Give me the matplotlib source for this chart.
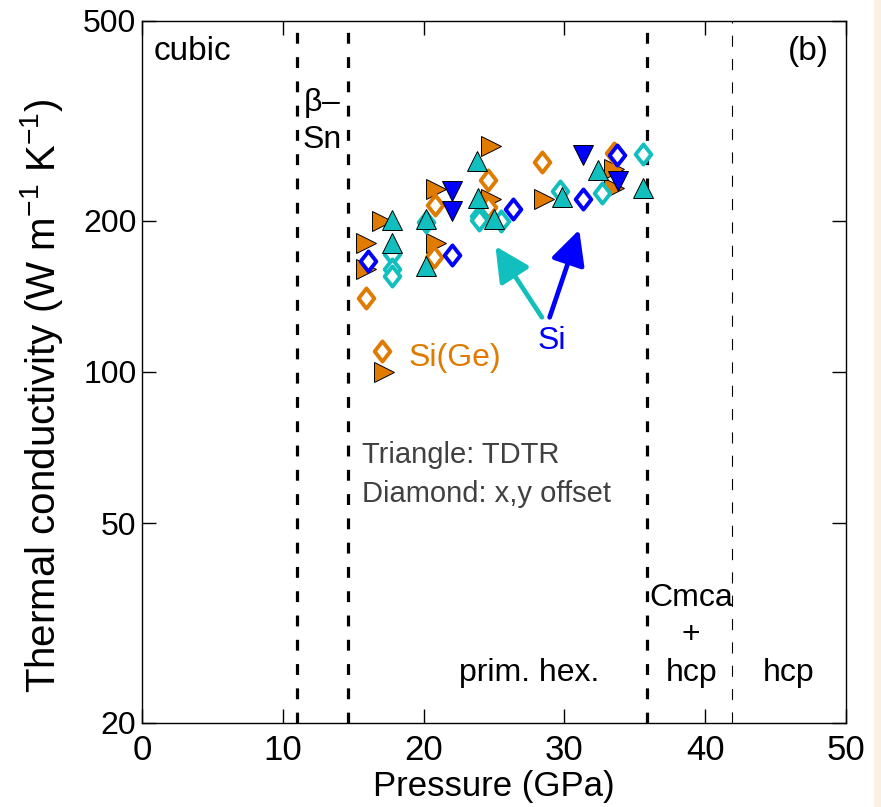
import numpy as np
import matplotlib
matplotlib.use('Agg')
import matplotlib.pyplot as plt
from matplotlib.path import Path
from matplotlib.patches import Rectangle

plt.rcParams['font.family'] = ['Liberation Sans', 'DejaVu Sans']
plt.rcParams['mathtext.fontset'] = 'custom'
plt.rcParams['mathtext.rm'] = 'Liberation Sans'

ORANGE = '#e07b00'
CYAN = '#12bfbf'
BLUE = '#0000ff'

# Si(Ge): TDTR (right triangles) and x,y offset (open diamonds)
sige_tdtr_p = [15.9, 15.9, 17.07, 20.86, 20.86, 24.77, 24.77, 28.55, 33.52, 33.52]
sige_tdtr_k = [181, 160, 200, 231, 181, 282, 221, 221, 254, 233]
sige_xy_p = [15.89, 20.74, 20.79, 24.57, 24.6, 28.38, 33.52]
sige_xy_k = [140.4, 169.5, 214.7, 240.7, 213, 261.8, 273.5]

# Si, first sample (cyan): up triangles and diamonds
si1_tdtr_p = [17.78, 17.78, 20.2, 20.2, 23.8, 23.88, 25.0, 29.8, 32.4, 35.6]
si1_tdtr_k = [201, 181, 201.5, 162.4, 263, 222, 202, 223, 253, 232.6]
si1_xy_p = [17.78, 17.78, 17.78, 20.2, 23.9, 23.9, 25.47, 29.66, 32.7, 35.6]
si1_xy_k = [172, 160, 155, 198.5, 204, 201, 200, 229, 227, 272]

# Si, second sample (blue): down triangles and diamonds
si2_tdtr_p = [22.0, 22.0, 31.32, 33.8]
si2_tdtr_k = [229, 209, 270, 240]
si2_xy_p = [16.08, 22.0, 26.35, 31.32, 33.76]
si2_xy_k = [166, 170.6, 211, 221, 271]

# phase boundaries (GPa)
thick_bounds = [11.0, 14.6, 35.9]
thin_bounds = [41.9]

yticks = [20, 50, 100, 200, 500]
xticks = [0, 10, 20, 30, 40, 50]

# narrow diamond marker
diamond = Path([(0, 1), (0.78, 0), (0, -1), (-0.78, 0), (0, 1)],
               [Path.MOVETO, Path.LINETO, Path.LINETO, Path.LINETO, Path.CLOSEPOLY])

fig = plt.figure(figsize=(8.81, 8.07), dpi=100)
ax = fig.add_axes([0.1612, 0.1041, 0.7991, 0.8699])
fig.patches.append(Rectangle((874 / 881, 0), 7 / 881, 1, transform=fig.transFigure,
                             facecolor='#f8f0e4', edgecolor='none'))

for b in thick_bounds:
    ax.axvline(b, color='k', lw=2.3, ls=(0, (3.4, 4.2)), zorder=1)
for b in thin_bounds:
    ax.axvline(b, color='k', lw=0.8, ls=(0, (10, 11)), zorder=1)

tri = dict(ms=14, mec='k', mew=0.7, ls='none')
dia = dict(marker=diamond, ms=14.5, mfc='white', mew=2.8, ls='none')

ax.plot(sige_tdtr_p, sige_tdtr_k, '>', mfc=ORANGE, **tri, zorder=3)
ax.plot(sige_xy_p, sige_xy_k, mec=ORANGE, **dia, zorder=3)
ax.plot(si1_xy_p, si1_xy_k, mec=CYAN, **dia, zorder=3)
ax.plot(si1_tdtr_p, si1_tdtr_k, '^', mfc=CYAN, **tri, zorder=3)
ax.plot(si2_tdtr_p, si2_tdtr_k, 'v', mfc=BLUE, **tri, zorder=3)
ax.plot(si2_xy_p, si2_xy_k, mec=BLUE, **dia, zorder=3)

# key markers next to the Si(Ge) label
ax.plot([17.07], [110], mec=ORANGE, **dia, zorder=3)
ax.plot([17.2], [100], '>', mfc=ORANGE, **tri, zorder=3)
ax.text(18.9, 106.5, 'Si(Ge)', color=ORANGE, fontsize=23, va='center', ha='left')

# arrows pointing to the two Si data sets
arrow = dict(arrowstyle='-|>,head_length=0.5,head_width=0.25', lw=3.4,
             shrinkA=0, shrinkB=0, mutation_scale=42)
ax.annotate('', xy=(25.1, 178), xytext=(28.4, 128.5),
            arrowprops=dict(color=CYAN, **arrow), zorder=4)
ax.annotate('', xy=(31.05, 192), xytext=(28.95, 128.5),
            arrowprops=dict(color=BLUE, **arrow), zorder=4)
ax.text(29.1, 115.5, 'Si', color=BLUE, fontsize=23, ha='center', va='center')

ax.text(15.6, 68.3, 'Triangle: TDTR', color='#404040', fontsize=21, va='center')
ax.text(15.6, 57.1, 'Diamond: x,y offset', color='#404040', fontsize=21, va='center')

# phase labels
ax.text(0.85, 435, 'cubic', fontsize=24, va='center', ha='left')
ax.text(48.8, 435, '(b)', fontsize=24, va='center', ha='right')
ax.text(12.8, 344, r'$\mathregular{\beta}$–', fontsize=23, va='center', ha='center')
ax.text(12.8, 290, 'Sn', fontsize=23, va='center', ha='center')
ax.text(27.5, 25.1, 'prim. hex.', fontsize=23, va='center', ha='center')
ax.text(39.0, 35.4, 'Cmca', fontsize=23, va='center', ha='center')
ax.text(39.0, 30.0, '+', fontsize=23, va='center', ha='center')
ax.text(39.0, 25.1, 'hcp', fontsize=23, va='center', ha='center')
ax.text(45.95, 25.1, 'hcp', fontsize=23, va='center', ha='center')

ax.set_yscale('log')
ax.set_xlim(0, 50)
ax.set_ylim(20, 500)
ax.set_xticks(xticks)
ax.set_yticks(yticks)
ax.set_yticklabels([str(v) for v in yticks])
ax.yaxis.set_minor_locator(matplotlib.ticker.NullLocator())
ax.tick_params(axis='both', which='major', direction='in', length=10, width=1,
               top=True, right=True)
ax.tick_params(axis='x', labelsize=25, pad=8)
ax.tick_params(axis='y', labelsize=23, pad=4)
for s in ax.spines.values():
    s.set_linewidth(1.0)

ax.set_xlabel('Pressure (GPa)', fontsize=25)
ax.xaxis.set_label_coords(0.5, -0.067)
ax.set_ylabel(r'Thermal conductivity (W m$^{-1}$ K$^{-1}$)', fontsize=29)
ax.yaxis.set_label_coords(-0.11, 0.466)

fig.savefig('out.png', dpi=100)
